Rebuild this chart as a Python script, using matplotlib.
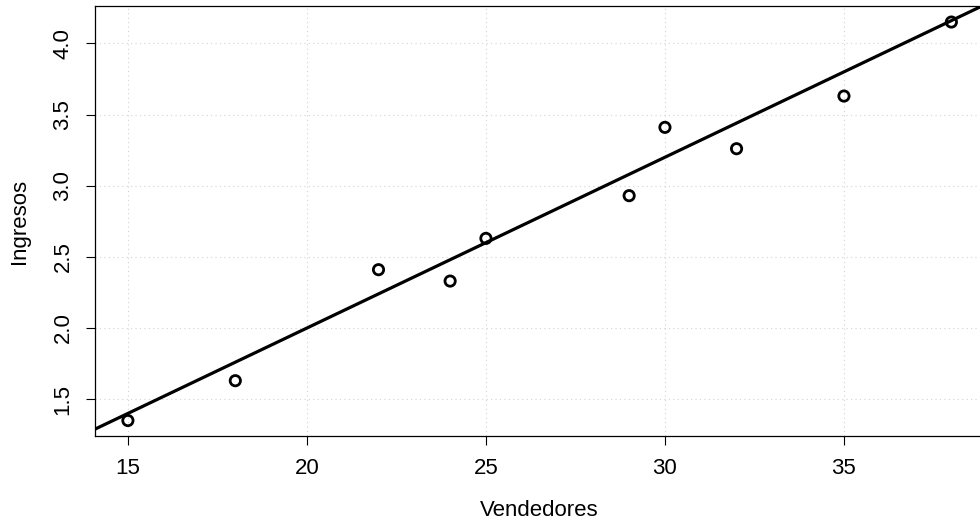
import matplotlib
matplotlib.use("Agg")
from matplotlib import pyplot as plt
import numpy as np

# data
vendedores = [15, 18, 22, 24, 25, 29, 30, 32, 35, 38]
ingresos = [1.35, 1.63, 2.41, 2.33, 2.63, 2.93, 3.41, 3.26, 3.63, 4.15]
line_intercept = -0.4
line_slope = 0.12
x_ticks = [15, 20, 25, 30, 35]
y_ticks = [1.5, 2.0, 2.5, 3.0, 3.5, 4.0]

plt.rcParams['font.family'] = ['Liberation Sans', 'DejaVu Sans']

fig = plt.figure(figsize=(9.8, 5.21), dpi=100)
ax = fig.add_axes([0.0969, 0.1622, 0.9075, 0.8261])

# R-style 4% padding of the axis ranges
xr = max(vendedores) - min(vendedores)
yr = max(ingresos) - min(ingresos)
xlim = (min(vendedores) - 0.04 * xr, max(vendedores) + 0.04 * xr)
ylim = (min(ingresos) - 0.04 * yr, max(ingresos) + 0.04 * yr)

# grid like R's grid()
for xt in x_ticks:
    ax.axvline(xt, color="lightgray", lw=0.8, ls=(0, (1, 3)), zorder=0)
for yt in y_ticks:
    ax.axhline(yt, color="lightgray", lw=0.8, ls=(0, (1, 3)), zorder=0)

ax.scatter(vendedores, ingresos, s=55, facecolors="none", edgecolors="black",
           linewidths=2.0, zorder=3)

xx = np.array(xlim)
ax.plot(xx, line_intercept + line_slope * xx, color="black", lw=2.3, zorder=2)

ax.set_xlim(xlim)
ax.set_ylim(ylim)
ax.set_xticks(x_ticks)
ax.set_xticklabels([str(v) for v in x_ticks])
ax.set_yticks(y_ticks)
ax.set_yticklabels(["%.1f" % v for v in y_ticks], rotation=90, va="center")
ax.tick_params(axis="both", direction="out", length=6.5, width=0.8,
               labelsize=16, pad=9)

for sp in ax.spines.values():
    sp.set_linewidth(0.9)

ax.set_xlabel("Vendedores", fontsize=16, labelpad=15)
ax.set_ylabel("Ingresos", fontsize=16, labelpad=16)

fig.savefig("out.png", dpi=100)
